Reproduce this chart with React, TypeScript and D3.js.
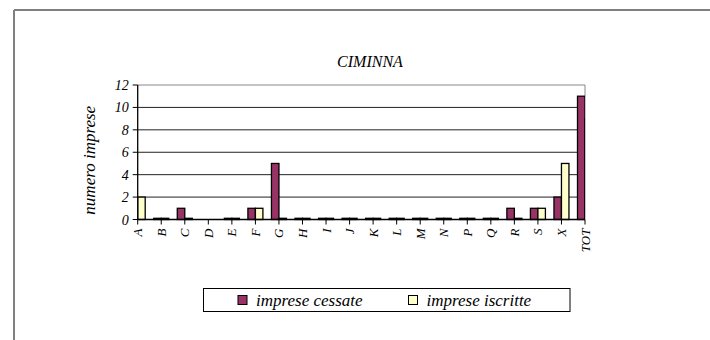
import React from "react";
import * as d3 from "d3";

const categories = ["A", "B", "C", "D", "E", "F", "G", "H", "I", "J", "K", "L", "M", "N", "P", "Q", "R", "S", "X", "TOT"];
// null = empty cell (no bar drawn)
const cessate: (number | null)[] = [0, 0, 1, null, 0, 1, 5, 0, 0, 0, 0, 0, 0, 0, 0, 0, 1, 1, 2, 11];
const iscritte: (number | null)[] = [2, 0, 0, null, 0, 1, 0, 0, 0, 0, 0, 0, 0, 0, 0, 0, 0, 1, 5, 9];
const yTicks = [0, 2, 4, 6, 8, 10, 12];
const seriesNames = ["imprese cessate", "imprese iscritte"];
const seriesColors = ["#993366", "#FFFFCC"];

const W = 710;
const H = 340;
const plot = { left: 137.7, right: 585, top: 85, bottom: 219.5 };
const barW = 7.5;
const font = "Liberation Serif, Times New Roman, serif";

export default function App() {
    const x = d3.scalePoint<string>().domain(categories).range([plot.left, plot.right]);
    const y = d3.scaleLinear().domain([0, 12]).range([plot.bottom, plot.top]);

    const series = [cessate, iscritte];

    return (
        <svg width={W} height={H} style={{ position: "absolute", left: 0, top: 0, background: "#fff", fontFamily: font, fontStyle: "italic" }}>
            <defs>
                <clipPath id="plotClip">
                    <rect x={plot.left} y={plot.top - 2} width={plot.right - plot.left} height={plot.bottom - plot.top + 4} />
                </clipPath>
            </defs>

            {/* outer frame */}
            <line x1={14} y1={10} x2={W} y2={10} stroke="#808080" strokeWidth={2} />
            <line x1={14} y1={10} x2={14} y2={H} stroke="#808080" strokeWidth={2} />

            <text x={370} y={67} textAnchor="middle" fontSize={16}>CIMINNA</text>

            {/* gridlines */}
            {yTicks.filter(t => t > 0).map(t => (
                <line key={t} x1={plot.left} x2={plot.right} y1={y(t)} y2={y(t)}
                    stroke={t === 12 ? "#888" : "#222"} strokeWidth={1} />
            ))}
            <line x1={plot.right} x2={plot.right} y1={plot.top} y2={plot.bottom} stroke="#888" strokeWidth={1} />

            {/* bars */}
            <g clipPath="url(#plotClip)">
                {series.map((vals, si) => vals.map((v, i) => {
                    if (v === null) return null;
                    const cx = x(categories[i]) ?? 0;
                    const bx = si === 0 ? cx - barW : cx;
                    const top = Math.min(y(v), y(0) - 1.2);
                    return (
                        <rect key={si + "-" + i} x={bx} y={top} width={barW} height={y(0) - top}
                            fill={seriesColors[si]} stroke="#000" strokeWidth={1.3} />
                    );
                }))}
            </g>

            {/* y axis */}
            <line x1={plot.left} x2={plot.left} y1={plot.top} y2={plot.bottom} stroke="#000" strokeWidth={1.3} />
            {yTicks.map(t => (
                <g key={t}>
                    <line x1={plot.left - 5} x2={plot.left} y1={y(t)} y2={y(t)} stroke="#000" />
                    <text x={plot.left - 9} y={y(t) + 5} textAnchor="end" fontSize={14}>{t}</text>
                </g>
            ))}
            <text transform={`translate(95,${(plot.top + plot.bottom) / 2 + 8}) rotate(-90)`}
                textAnchor="middle" fontSize={17}>numero imprese</text>

            {/* x axis */}
            <line x1={plot.left} x2={plot.right} y1={plot.bottom} y2={plot.bottom} stroke="#000" strokeWidth={1.3} />
            {categories.map(c => {
                const cx = x(c) ?? 0;
                return (
                    <g key={c}>
                        <line x1={cx} x2={cx} y1={plot.bottom} y2={plot.bottom + 5} stroke="#000" />
                        <text transform={`translate(${cx + 4.5},${plot.bottom + 9}) rotate(-90)`}
                            textAnchor="end" fontSize={13}>{c}</text>
                    </g>
                );
            })}

            {/* legend */}
            <rect x={203.5} y={288.5} width={366.5} height={23} fill="#fff" stroke="#000" strokeWidth={1} />
            {seriesNames.map((name, i) => {
                const lx = i === 0 ? 238 : 408.5;
                return (
                    <g key={name}>
                        <rect x={lx} y={295.5} width={9} height={9} fill={seriesColors[i]} stroke="#000" strokeWidth={1} />
                        <text x={lx + 18} y={306} fontSize={17}>{name}</text>
                    </g>
                );
            })}
        </svg>
    );
}
